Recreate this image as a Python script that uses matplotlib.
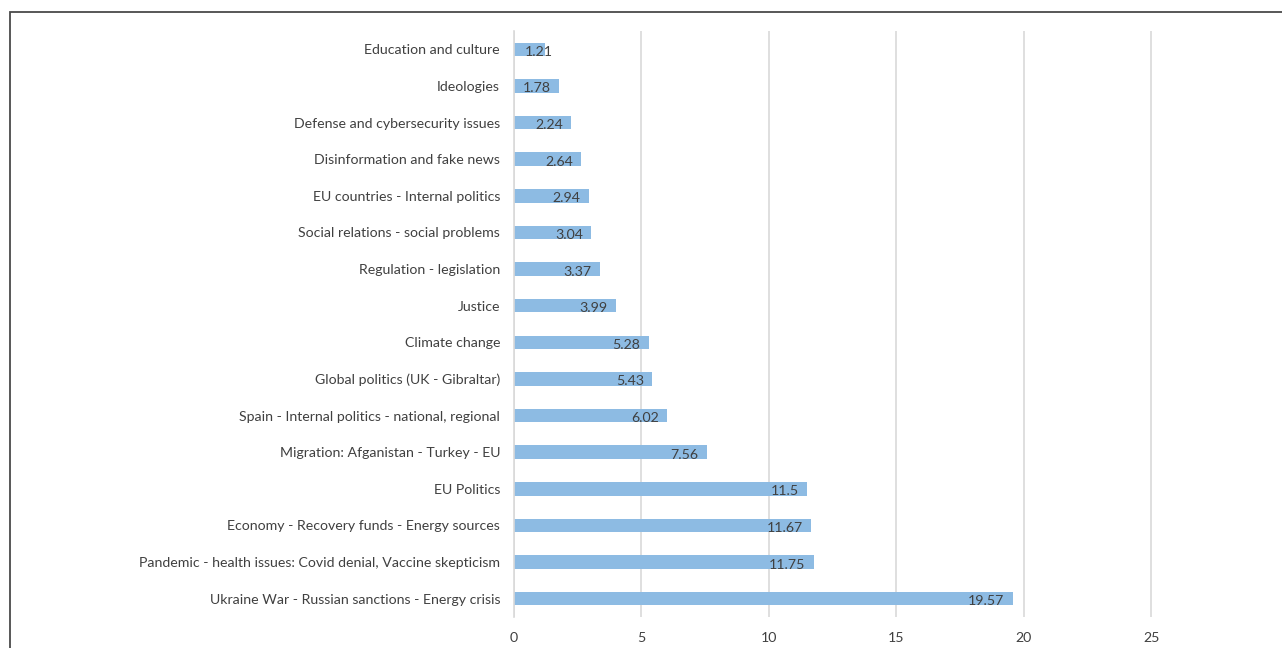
import matplotlib
matplotlib.use("Agg")
import matplotlib.pyplot as plt
from matplotlib.patches import Rectangle

categories = [
    "Ukraine War - Russian sanctions - Energy crisis",
    "Pandemic - health issues: Covid denial, Vaccine skepticism",
    "Economy - Recovery funds - Energy sources",
    "EU Politics",
    "Migration: Afganistan - Turkey - EU",
    "Spain - Internal politics - national, regional",
    "Global politics (UK - Gibraltar)",
    "Climate change",
    "Justice",
    "Regulation - legislation",
    "Social relations - social problems",
    "EU countries - Internal politics",
    "Disinformation and fake news",
    "Defense and cybersecurity issues",
    "Ideologies",
    "Education and culture",
]
values = [19.57, 11.75, 11.67, 11.5, 7.56, 6.02, 5.43, 5.28, 3.99, 3.37,
          3.04, 2.94, 2.64, 2.24, 1.78, 1.21]
xticks = [0, 5, 10, 15, 20, 25]

plt.rcParams['font.family'] = ['Lato', 'DejaVu Sans']

W, H = 1282, 648
fig = plt.figure(figsize=(W / 100, H / 100), dpi=100)
x0, x1 = 514, 1266
y0, y1 = 31, 617
ax = fig.add_axes([x0 / W, 1 - y1 / H, (x1 - x0) / W, (y1 - y0) / H])

# figure border (top and left visible)
fig.patches.append(Rectangle((10 / W, -0.1), 1.2, 1 - 12 / H + 0.1,
                             transform=fig.transFigure, fill=False,
                             edgecolor='#4a4a4a', linewidth=1.3, zorder=10))

pos = list(range(len(categories)))
ax.barh(pos, values, height=0.37, color='#8dbbe3', zorder=2)

for p, v in zip(pos, values):
    if v < 1.5:
        ax.annotate(f"{v:g}", xy=(0, p), xytext=(8, -1.8), textcoords='offset points',
                    ha='left', va='center', fontsize=10.2, color='#404040', zorder=3)
    else:
        ax.annotate(f"{v:g}", xy=(v, p), xytext=(-6, -1.8), textcoords='offset points',
                    ha='right', va='center', fontsize=10.2, color='#404040', zorder=3)

ax.set_ylim(-0.5, len(categories) - 0.5)
ax.set_xlim(0, 29.5)
ax.set_yticks(pos)
ax.set_yticklabels(categories, fontsize=10.2, color='#404040')
ax.set_xticks(xticks)
ax.set_xticklabels([str(t) for t in xticks], fontsize=10.2, color='#404040')
ax.tick_params(axis='both', length=0)
ax.tick_params(axis='y', pad=10)
ax.tick_params(axis='x', pad=11)
ax.grid(axis='x', color='#d9d9d9', linewidth=1.2, zorder=0)
ax.set_axisbelow(True)
for s in ['top', 'right', 'bottom']:
    ax.spines[s].set_visible(False)
ax.spines['left'].set_color('#d9d9d9')
ax.spines['left'].set_linewidth(1.2)

fig.savefig("out.png", dpi=100)
